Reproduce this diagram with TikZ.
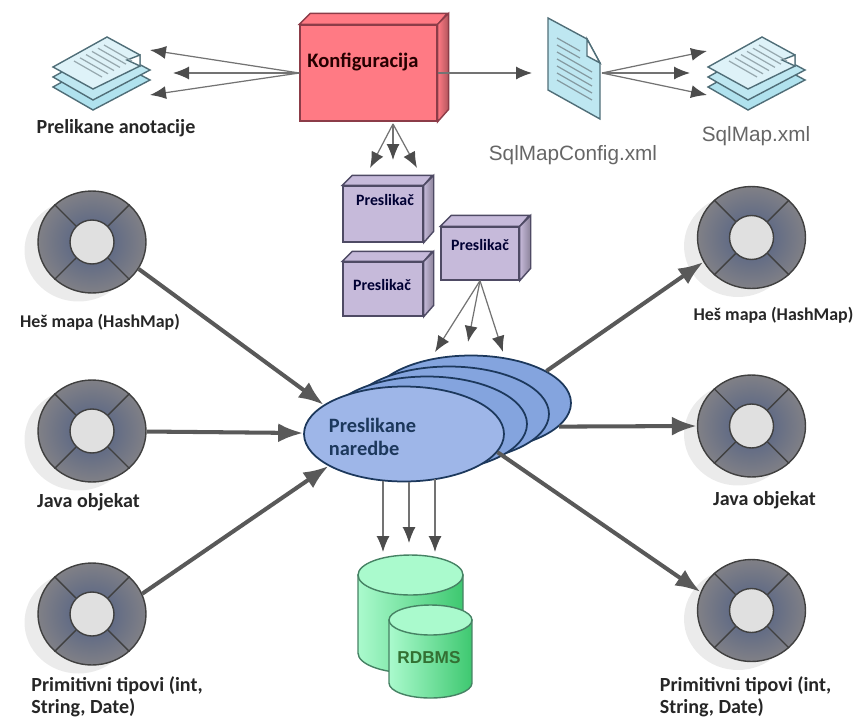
\documentclass[tikz,border=0pt]{standalone}
\usepackage{fontspec}
\setmainfont{Carlito}
\newfontfamily\xmlfont{Liberation Sans}
\usetikzlibrary{arrows.meta,shapes.geometric,shadows}
\definecolor{conf_red}{RGB}{255,122,132}
\definecolor{conf_edge}{RGB}{140,60,72}
\definecolor{map_violet}{RGB}{198,186,218}
\definecolor{map_edge}{RGB}{78,74,100}
\definecolor{stmt_front}{RGB}{158,182,232}
\definecolor{stmt_back}{RGB}{132,164,222}
\definecolor{stmt_edge}{RGB}{28,56,92}
\definecolor{ring_in}{RGB}{78,94,132}
\definecolor{ring_out}{RGB}{128,128,134}
\definecolor{page_edge}{RGB}{80,110,120}
\definecolor{page_top}{RGB}{222,242,248}
\definecolor{page_low}{RGB}{176,226,238}
\definecolor{db_edge}{RGB}{70,130,100}
\definecolor{db_top}{RGB}{170,250,205}
\definecolor{db_dark}{RGB}{62,200,112}
\begin{document}
\begin{tikzpicture}[x=0.02cm,y=-0.02cm,
           ring_style/.style={ellipse,draw=black!75,line width=0.8pt,inner sep=0pt,minimum width=2.16cm,minimum height=2.04cm,inner color=ring_in,outer color=ring_out,drop shadow={shadow xshift=-0.27cm,shadow yshift=-0.17cm,fill=black!8,opacity=1}},
           hub_style/.style={circle,draw=black!75,line width=0.8pt,inner sep=0pt,minimum size=0.88cm,fill=black!12},
           box_style/.style={rectangle,draw=map_edge,line width=0.8pt,inner sep=0pt,fill=map_violet},
           conf_style/.style={box_style,draw=conf_edge,fill=conf_red},
           stmt_style/.style={ellipse,draw=stmt_edge,line width=1pt,inner sep=0pt,minimum width=4cm,minimum height=1.9cm,fill=stmt_back},
           stmt_style_front/.style={stmt_style,fill=stmt_front},
           db_style/.style={draw=db_edge,line width=0.8pt,left color=db_top,right color=db_dark},
           db_top_style/.style={ellipse,draw=db_edge,line width=0.8pt,inner sep=0pt,fill=db_top},
           label_style/.style={font=\fontsize{11.4}{12.4}\selectfont\bfseries,text=black!85,align=left,inner sep=0pt},
           hash_label/.style={label_style,font=\fontsize{10.2}{12}\selectfont\bfseries},
           map_label/.style={font=\fontsize{9}{10}\selectfont\bfseries,text=black!80!blue,inner sep=0pt},
           xml_label/.style={font=\fontsize{11.8}{13}\selectfont\xmlfont,text=black!60,inner sep=0pt},
           edge_style/.style={draw=black!55,line width=0.7pt,-{Latex[length=0.32cm,width=0.26cm,color=black!70]}},
           thick_edge/.style={draw=black!65,line width=2.3pt,-{Latex[length=0.5cm,width=0.38cm]}}]
            \useasboundingbox (0,0) rectangle (861,720);
            % stacks of pages
            \foreach \dx in {0,655} {
                \begin{scope}[shift={(\dx,0)}]
                    \foreach \dy/\c in {20/page_low,10/page_low!70!page_top} {
                        \draw[draw=page_edge,line width=0.8pt,fill=\c] (53,{67+\dy}) -- (107,{37+\dy}) -- (150,{60+\dy}) -- (93,{90+\dy}) -- cycle;
                    }
                    \draw[draw=page_edge,line width=0.8pt,fill=page_top] (53,67) -- (107,37) -- (140,55) -- (140,66) -- (93,89) -- cycle;
                    \draw[draw=page_edge,line width=0.8pt,fill=white] (127,60) -- (140,55) -- (140,66) -- cycle;
                    \foreach \i in {0,...,5} {
                        \draw[draw=page_edge!60,line width=0.7pt] ({74+6*\i},{61-3.2*\i}) -- ({102+6*\i},{77-3.2*\i});
                    }
                \end{scope}
            }
            % single page
            \draw[draw=page_edge,line width=0.8pt,fill=page_low!70!page_top] (548,18) -- (587,39) -- (600,63) -- (600,119) -- (548,90) -- cycle;
            \draw[draw=page_edge,line width=0.8pt,fill=white] (587,39) -- (587,56) -- (600,63) -- cycle;
            \foreach \i in {0,...,6} {
                \draw[draw=page_edge!70,line width=0.7pt] (557,{38+7*\i}) -- ({\i<2 ? 580 : 592},{(\i<2 ? 51 : 58)+7*\i});
            }
            % boxes
            \node[conf_style,minimum width=2.74cm,minimum height=1.92cm] (conf) at (368.5,73) {};
            \node[box_style,minimum width=1.6cm,minimum height=1.12cm] (map1) at (383,214) {};
            \node[box_style,minimum width=1.6cm,minimum height=1.08cm] (map2) at (383,289) {};
            \node[box_style,minimum width=1.56cm,minimum height=1.06cm] (map3) at (480,253.5) {};
            \foreach \n/\w/\h/\d/\e/\c in {conf/137/96/11/conf_edge/conf_red,map1/80/56/10/map_edge/map_violet,map2/80/54/10/map_edge/map_violet,map3/78/53/11/map_edge/map_violet} {
                \shade[draw=\e,line width=0.8pt,left color=\c,middle color=white,right color=\c] (\n.north west) -- ++(\d,-\d) -- ++(\w,0) -- (\n.north east) -- cycle;
                \shade[draw=\e,line width=0.8pt,left color=\c,middle color=white,right color=\c!70!black] (\n.north east) -- ++(\d,-\d) -- ++(0,\h) -- (\n.south east) -- cycle;
            }
            \node[label_style,font=\fontsize{11.7}{13}\selectfont\bfseries,text=black!85!red] (conf_text) at (363,62) {Konfiguracija};
            \node[map_label] (map1_text) at (385,200) {Preslikač};
            \node[map_label] (map2_text) at (382,285) {Preslikač};
            \node[map_label] (map3_text) at (480,245) {Preslikač};
            % statements
            \node[stmt_style] (stmt4) at (471,403) {};
            \node[stmt_style] (stmt3) at (449,414) {};
            \node[stmt_style] (stmt2) at (427,424) {};
            \node[stmt_style_front] (stmt1) at (404,434) {};
            \node[label_style,font=\fontsize{11.6}{13}\selectfont\bfseries,text=stmt_edge] (stmt_text) at (372.5,436.5) {Preslikane\\naredbe};
            % rings
            \node[ring_style] (hl1) at (92,242) {};
            \node[ring_style] (hl2) at (92,431) {};
            \node[ring_style] (hl3) at (92,614) {};
            \node[ring_style] (hr1) at (751.5,237.5) {};
            \node[ring_style] (hr2) at (751.5,426) {};
            \node[ring_style] (hr3) at (751.5,610.5) {};
            \foreach \n in {hl1,hl2,hl3,hr1,hr2,hr3} {
                \node[hub_style] (\n hub) at (\n) {};
                \foreach \a in {45,135,225,315} {
                    \draw[draw=black!75,line width=0.8pt] (\n hub.\a) -- (\n.\a);
                }
            }
            % database
            \shade[db_style] (358,575) -- (358,653) arc[start angle=180,end angle=0,x radius=52.5,y radius=20] -- (463,575) -- cycle;
            \node[db_top_style,minimum width=2.1cm,minimum height=0.8cm] (db1) at (410.5,575) {};
            \shade[db_style] (389,620) -- (389,683) arc[start angle=180,end angle=0,x radius=41.5,y radius=15] -- (472,620) -- cycle;
            \node[db_top_style,minimum width=1.66cm,minimum height=0.6cm] (db2) at (430.5,620) {};
            \node[font=\fontsize{9.8}{11}\selectfont\xmlfont\bfseries,text=green!30!black!80,inner sep=0pt] (db_text) at (429,658) {RDBMS};
            % end points of the fans
            \coordinate (ann1) at (150,50);
            \coordinate (ann2) at (173,73);
            \coordinate (ann3) at (150,95);
            \coordinate (cfg) at (532,73);
            \coordinate (doc) at (602,73);
            \coordinate (sql1) at (707,51);
            \coordinate (sql2) at (690,73);
            \coordinate (sql3) at (707,95);
            \coordinate (cdown) at (393,124);
            \coordinate (m1) at (370,168);
            \coordinate (m2) at (393,160);
            \coordinate (m3) at (417,168);
            \coordinate (s1) at (435,352);
            \coordinate (s2) at (468,342);
            \coordinate (s3) at (503,352);
            \coordinate (d1from) at (383,481);
            \coordinate (d2from) at (409,482);
            \coordinate (d3from) at (435,479);
            \coordinate (d1) at (383,552);
            \coordinate (d2) at (409,543);
            \coordinate (d3) at (435,552);
            \draw[edge_style] (conf.west) -- (ann1);
            \draw[edge_style] (conf.west) -- (ann2);
            \draw[edge_style] (conf.west) -- (ann3);
            \draw[edge_style] (conf.east) -- (cfg);
            \draw[edge_style] (doc) -- (sql1);
            \draw[edge_style] (doc) -- (sql2);
            \draw[edge_style] (doc) -- (sql3);
            \draw[edge_style] (cdown) -- (m1);
            \draw[edge_style] (cdown) -- (m2);
            \draw[edge_style] (cdown) -- (m3);
            \draw[edge_style] (map3.south) -- (s1);
            \draw[edge_style] (map3.south) -- (s2);
            \draw[edge_style] (map3.south) -- (s3);
            \draw[edge_style] (d1from) -- (d1);
            \draw[edge_style] (d2from) -- (d2);
            \draw[edge_style] (d3from) -- (d3);
            \draw[thick_edge] (hl1.-30) -- (stmt1.160);
            \draw[thick_edge] (hl2) -- (stmt1);
            \draw[thick_edge] (hl3.22) -- (stmt1.203);
            \draw[thick_edge] (stmt4.23) -- (hr1.207);
            \draw[thick_edge] (stmt4.-15) -- (hr2.180);
            \draw[thick_edge] (stmt1.-11) -- (hr3.160);
            % labels
            \node[label_style] (ann_text) at (116,128) {Prelikane anotacije};
            \node[xml_label] (cfg_text) at (573,155) {SqlMapConfig.xml};
            \node[xml_label] (sql_text) at (756,136) {SqlMap.xml};
            \node[hash_label] (hl1_text) at (100,322) {Heš mapa (HashMap)};
            \node[label_style] (hl2_text) at (88.5,502) {Java objekat};
            \node[label_style] (hl3_text) at (117,697) {Primitivni tipovi (int,\\String, Date)};
            \node[hash_label] (hr1_text) at (773.5,315) {Heš mapa (HashMap)};
            \node[label_style] (hr2_text) at (764.5,500) {Java objekat};
            \node[label_style] (hr3_text) at (745.5,696.5) {Primitivni tipovi (int,\\String, Date)};
        \end{tikzpicture}
\end{document}
